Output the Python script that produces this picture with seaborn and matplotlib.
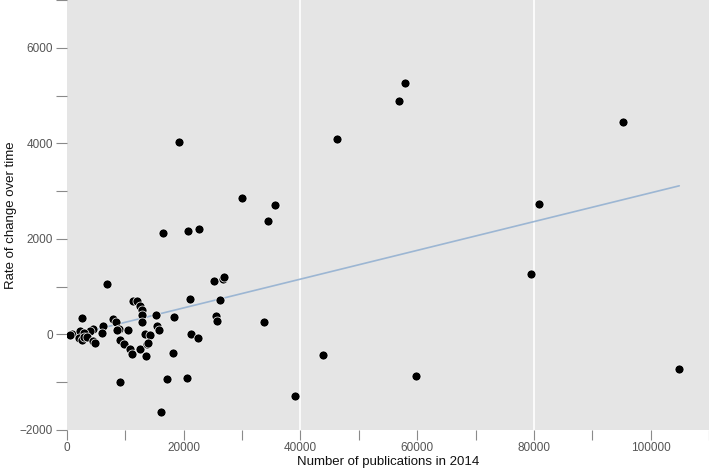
import matplotlib
matplotlib.use("Agg")
import matplotlib.pyplot as plt
from matplotlib.ticker import MultipleLocator
import pandas as pd
import seaborn as sns

# ─── Data ───────────────────────────────────────────────────────────────────
publications = [
    19230, 20775, 16480, 22660, 30050, 34510, 35710, 46190, 56830, 57860,
    95290, 80870, 79500, 59750, 43780, 39150, 104900, 6870, 16140, 20600,
    17170, 9100, 18140,
    25240, 26700, 26900, 21120, 26150, 25460, 25750, 33710, 18370, 15280,
    21290, 22500,
    11390, 11960, 12530, 12820, 12820, 12820, 2520, 7950, 8410, 8870,
    8640, 6250, 5950, 4520, 3950, 860, 510, 2250, 2830, 2000,
    2580, 2920, 3490, 4400, 4800, 10500, 13390, 14300, 15500, 15740,
    9000, 9700, 10820, 11080, 12500, 13700, 13960, 13620,
]
rate_of_change = [
    4020, 2160, 2115, 2200, 2850, 2370, 2700, 4100, 4880, 5260,
    4440, 2740, 1260, -880, -420, -1280, -730, 1050, -1630, -920,
    -940, -990, -380,
    1110, 1160, 1210, 740, 730, 380, 290, 250, 360, 410,
    10, -70,
    710, 710, 600, 503, 400, 260, 335, 330, 270, 120,
    100, 180, 40, 110, 80, 15, -15, 70, 40, -70,
    -110, -60, -60, -140, -170, 90, 10, -15, 180, 100,
    -110, -190, -300, -410, -295, -200, -180, -450,
]

df = pd.DataFrame({"pubs": publications, "rate": rate_of_change})

# ─── Style ──────────────────────────────────────────────────────────────────
sns.set_style("white")
plt.rcParams["font.family"] = ["Liberation Sans", "DejaVu Sans"]

fig = plt.figure(figsize=(7.09, 4.72), dpi=100)
ax = fig.add_axes([0.0945, 0.089, 0.9055, 0.911])
ax.set_facecolor("#e5e5e5")

# sparse white gridlines as in the reference
for gx in (40000, 80000):
    ax.axvline(gx, color="white", lw=1.3, alpha=0.9, zorder=0)

sns.regplot(data=df, x="pubs", y="rate", ax=ax, ci=None, scatter=False,
            line_kws={"color": "#9cb6d3", "lw": 1.2, "zorder": 2})
sns.scatterplot(data=df, x="pubs", y="rate", ax=ax, color="black", s=42,
                edgecolor="white", linewidth=0.5, zorder=3)

ax.set_xlim(0, 110000)
ax.set_ylim(-2000, 7000)
ax.xaxis.set_major_locator(MultipleLocator(20000))
ax.xaxis.set_minor_locator(MultipleLocator(10000))
ax.yaxis.set_major_locator(MultipleLocator(2000))
ax.yaxis.set_minor_locator(MultipleLocator(1000))

for s in ax.spines.values():
    s.set_visible(False)

ax.tick_params(which="both", direction="out", length=8, width=0.8,
               color="#8a8a8a", labelcolor="#555555", labelsize=8.5, pad=2)
ax.tick_params(axis="x", which="both", bottom=True, length=7)
ax.tick_params(axis="y", which="both", left=True)

ax.set_xlabel("Number of publications in 2014", fontsize=9.5, color="#111111",
              labelpad=1)
ax.set_ylabel("Rate of change over time", fontsize=9.5, color="#111111",
              labelpad=2)

fig.savefig("out.png", dpi=100, facecolor="white")
plt.close(fig)
